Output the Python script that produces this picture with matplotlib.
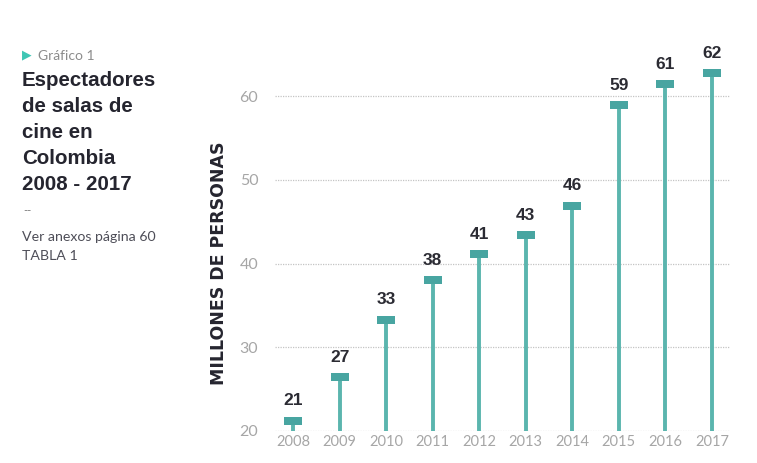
import matplotlib
matplotlib.use("Agg")
import matplotlib.pyplot as plt
from matplotlib.path import Path

years = [2008, 2009, 2010, 2011, 2012, 2013, 2014, 2015, 2016, 2017]
values = [21.2, 26.4, 33.3, 38.0, 41.1, 43.4, 46.9, 58.9, 61.4, 62.7]
labels = ["21", "27", "33", "38", "41", "43", "46", "59", "61", "62"]
yticks = [20, 30, 40, 50, 60]
title_lines = ["Espectadores", "de salas de", "cine en", "Colombia", "2008 - 2017"]

teal = "#5bb5ae"
teal_dark = "#48a5a1"

plt.rcParams['font.family'] = ['Lato', 'DejaVu Sans']

fig = plt.figure(figsize=(7.57, 4.63), dpi=100)
ax = fig.add_axes([275/757, 1-431/463, (730-275)/757, (431-40)/463])
ax.set_xlim(2007.61, 2017.39)
ax.set_ylim(20, 20 + (431-40)/8.375)

for y in yticks:
    ax.axhline(y, color="#c4c4c4", lw=0.9, ls=(0, (1, 1)), zorder=1)

ax.vlines(years, 20, values, color=teal, lw=2.8, zorder=2)
rect = Path([(-1, -0.45), (1, -0.45), (1, 0.45), (-1, 0.45), (-1, -0.45)],
            [Path.MOVETO, Path.LINETO, Path.LINETO, Path.LINETO, Path.CLOSEPOLY])
ax.scatter(years, values, marker=rect, s=170, color=teal_dark, zorder=3, linewidths=0)

for x, v, t in zip(years, values, labels):
    ax.annotate(t, (x, v), xytext=(0, 9), textcoords="offset points",
                ha="center", va="bottom", fontsize=12.5, fontweight="bold",
                color="#2b2b33", family=["Liberation Sans", "DejaVu Sans"])

ax.set_xticks(years)
ax.set_xticklabels([str(y) for y in years], fontsize=10.5, color="#a6a6a6")
ax.set_yticks(yticks)
ax.set_yticklabels([str(y) for y in yticks], fontsize=11.5, color="#a6a6a6")
ax.tick_params(length=0, pad=3)
ax.tick_params(axis="y", pad=12)
for s in ax.spines.values():
    s.set_visible(False)

fig.text(219/757, 1-263.5/463, "MILLONES DE PERSONAS", rotation=90, fontsize=12.5,
         fontweight="bold", color="#25252f", ha="center", va="center",
         family=["DejaVu Sans"])

# left text block
fig.text(22/757, 1-55/463, "\u25B6", color="#3fc6b4", fontsize=9, va="center", ha="left",
         family=['DejaVu Sans'])
fig.text(38/757, 1-56/463, "Gráfico 1", color="#8c8c8c", fontsize=10, va="center", ha="left")
for i, line in enumerate(title_lines):
    fig.text(22/757, 1-(80 + 26*i)/463, line, color="#25252f", fontsize=14.8, fontweight="bold",
             va="center", ha="left", family=["Liberation Sans", "DejaVu Sans"])
fig.text(23/757, 1-211/463, "--", color="#777777", fontsize=8, va="center", ha="left")
fig.text(22/757, 1-237/463, "Ver anexos página 60", color="#4e4e58", fontsize=10.2,
         va="center", ha="left")
fig.text(22/757, 1-256/463, "TABLA 1", color="#4e4e58", fontsize=10.2, va="center", ha="left")

fig.savefig("out.png", dpi=100, facecolor="white")
